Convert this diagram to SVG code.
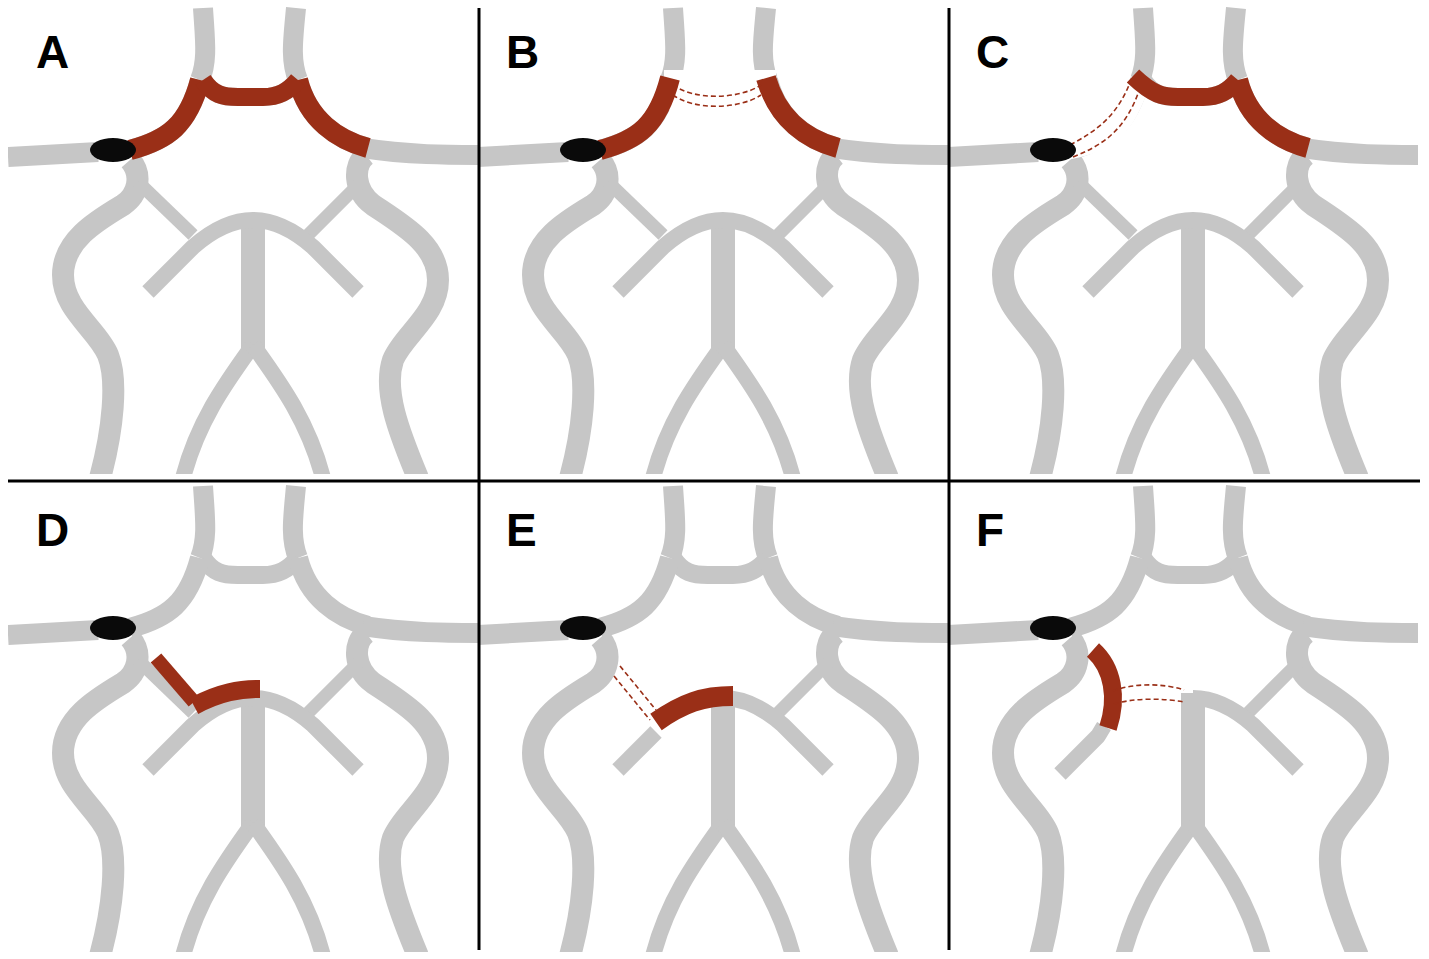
<svg xmlns="http://www.w3.org/2000/svg" width="1429" height="959" viewBox="0 0 1429 959">
<style>
.g{fill:none;stroke:#c6c6c6;stroke-linecap:butt;stroke-linejoin:round}
.r{fill:none;stroke:#9a2f17;stroke-linecap:butt;stroke-linejoin:round}
.d{fill:none;stroke:#9a2f17;stroke-width:1.6;stroke-dasharray:5,3}
.lbl{font-family:"Liberation Sans",Arial,sans-serif;font-size:46px;font-weight:bold;fill:#000}
.div{stroke:#000;stroke-width:3}
</style>
<defs>
<clipPath id="cp"><rect x="0" y="0" width="470" height="474"/></clipPath>
<g id="top">
<path class="g" stroke-width="20" d="M195,8 C197,40 200,60 192,80"/>
<path class="g" stroke-width="20" d="M288,8 C285,40 282,60 290,80"/>
<path class="g" stroke-width="18" d="M195,80 C205,95 215,97 230,97 L255,97 C270,97 280,92 290,80"/>
<path class="g" stroke-width="20" d="M0,157 L90,152"/>
<path class="g" stroke-width="20" d="M122,150 C160,140 180,125 192,80"/>
<path class="g" stroke-width="20" d="M290,80 C300,120 330,140 360,148"/>
<path class="g" stroke-width="20" d="M355,148 C400,155 440,155 475,155"/>
</g>
<g id="low">
<path class="g" stroke-width="22" d="M122,160 C135,175 130,195 115,205 C90,220 55,240 55,275 C55,310 90,330 100,355 C110,380 105,430 92,478"/>
<path class="g" stroke-width="22" d="M358,155 C345,165 345,190 365,205 C395,225 430,245 430,280 C430,315 395,335 385,360 C375,390 390,430 410,478"/>
<path class="g" stroke-width="13" d="M350,185 L300,235"/>
<path class="g" stroke-width="16" d="M245,220 C260,220 280,225 305,247 L350,292"/>
<path class="g" stroke-width="24" d="M245,215 L245,350"/>
<path class="g" stroke-width="16" d="M245,345 C220,380 190,420 175,478"/>
<path class="g" stroke-width="16" d="M245,345 C270,380 300,420 315,478"/>
</g>
<g id="pl">
<path class="g" stroke-width="13" d="M130,182 L185,235"/>
<path class="g" stroke-width="16" d="M140,292 L185,247 C210,225 230,220 245,220"/>
</g>
<ellipse id="clot" cx="105" cy="150" rx="23" ry="12" fill="#0a0a0a"/>
</defs>

<g id="panelA" transform="translate(8,0)" clip-path="url(#cp)">
<use href="#top"/><use href="#low"/><use href="#pl"/>
<path class="r" stroke-width="20" d="M122,150 C160,140 180,125 192,80"/>
<path class="r" stroke-width="20" d="M290,80 C300,120 330,140 360,148"/>
<path class="r" stroke-width="18" d="M195,80 C205,95 215,97 230,97 L255,97 C270,97 280,92 290,80"/>
<use href="#clot"/>
<text class="lbl" x="28" y="68">A</text>
</g>

<g id="panelB" transform="translate(478,0)" clip-path="url(#cp)">
<use href="#top"/><use href="#low"/><use href="#pl"/>
<rect x="186" y="70" width="112" height="40" fill="#fff"/>
<path class="r" stroke-width="20" d="M122,150 C160,140 180,125 192,78"/>
<path class="r" stroke-width="20" d="M288,78 C300,120 330,140 360,148"/>
<path class="d" d="M195,85 C215,100 260,100 283,85"/>
<path class="d" d="M195,95 C215,110 260,110 283,95"/>
<use href="#clot"/>
<text class="lbl" x="28" y="68">B</text>
</g>

<g id="panelC" transform="translate(948,0)" clip-path="url(#cp)">
<use href="#top"/><use href="#low"/><use href="#pl"/>
<path d="M118,148 C160,140 175,128 190,82" stroke="#fff" stroke-width="24" fill="none"/>
<path class="d" d="M122,145 C150,130 170,115 183,80"/>
<path class="d" d="M125,157 C155,145 178,130 192,88"/>
<path class="r" stroke-width="20" d="M290,80 C300,120 330,140 360,148"/>
<path class="r" stroke-width="18" d="M185,76 C205,95 215,97 230,97 L255,97 C270,97 280,92 290,80"/>
<use href="#clot"/>
<text class="lbl" x="28" y="68">C</text>
</g>

<g id="panelD" transform="translate(8,478)" clip-path="url(#cp)">
<use href="#top"/><use href="#low"/><use href="#pl"/>
<path class="r" stroke-width="14" d="M148,180 L186,224"/>
<path class="r" stroke-width="18" d="M186,228 C212,214 232,211 252,211"/>
<use href="#clot"/>
<text class="lbl" x="28" y="68">D</text>
</g>

<g id="panelE" transform="translate(478,478)" clip-path="url(#cp)">
<use href="#top"/><use href="#low"/>
<path class="g" stroke-width="16" d="M140,292 L178,254"/>
<path class="d" d="M142,188 L178,232"/>
<path class="d" d="M136,198 L172,242"/>
<path class="r" stroke-width="20" d="M178,244 C205,225 225,218 255,218"/>
<use href="#clot"/>
<text class="lbl" x="28" y="68">E</text>
</g>

<g id="panelF" transform="translate(948,478)" clip-path="url(#cp)">
<use href="#top"/><use href="#low"/>
<path class="g" stroke-width="16" d="M112,296 L150,258 L156,248"/>
<path class="r" stroke-width="18" d="M145,172 C165,190 170,220 160,250"/>
<path class="d" d="M165,213 C185,205 215,205 236,212"/>
<path class="d" d="M166,226 C185,220 215,220 236,224"/>
<use href="#clot"/>
<text class="lbl" x="28" y="68">F</text>
</g>

<g id="dividers">
<line class="div" x1="479" y1="8" x2="479" y2="950"/>
<line class="div" x1="949" y1="8" x2="949" y2="950"/>
<line class="div" x1="8" y1="481" x2="1420" y2="481"/>
</g>
</svg>
